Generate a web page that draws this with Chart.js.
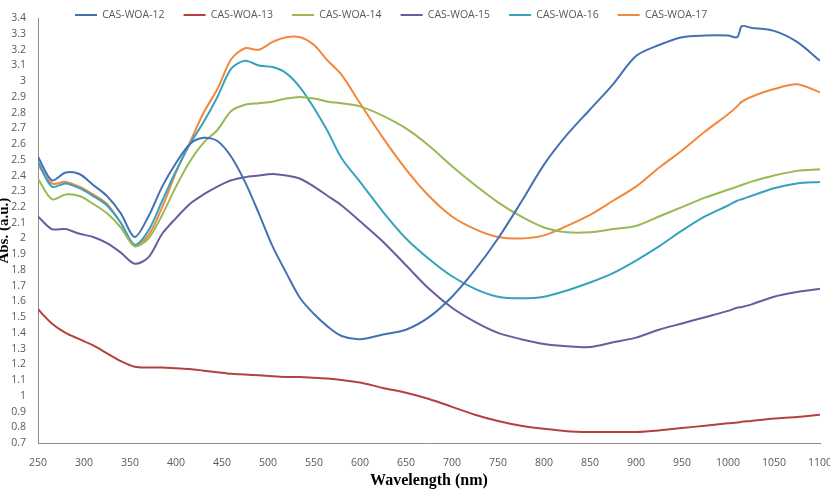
<!DOCTYPE html>
<html>
<head>
<meta charset="utf-8">
<script src="https://cdn.jsdelivr.net/npm/chart.js@4.4.1/dist/chart.umd.min.js"></script>
<style>
  body { margin: 0; background: #fff; }
</style>
</head>
<body>
<canvas id="spectra-chart" width="830" height="490"></canvas>
<script>
const wavelengths = [250, 265, 280, 295, 310, 325, 340, 355, 370, 385, 400, 415, 430, 445, 460, 475, 490, 505, 520, 535,
  550, 565, 580, 600, 625, 650, 675, 700, 725, 750, 775, 800, 825, 850, 875, 900, 925, 950, 975, 1000,
  1010, 1015, 1025, 1050, 1075, 1100];

const woa12 = [2.52, 2.37, 2.42, 2.41, 2.34, 2.27, 2.16, 2.01, 2.14, 2.33, 2.48, 2.60, 2.64, 2.62, 2.52, 2.36, 2.16, 1.95, 1.78, 1.62,
  1.52, 1.44, 1.38, 1.36, 1.39, 1.42, 1.50, 1.63, 1.80, 2.00, 2.23, 2.47, 2.66, 2.82, 2.98, 3.16, 3.23, 3.28, 3.29, 3.29,
  3.28, 3.35, 3.34, 3.32, 3.25, 3.13];
const woa13 = [1.55, 1.46, 1.40, 1.36, 1.32, 1.27, 1.22, 1.185, 1.18, 1.18, 1.175, 1.17, 1.16, 1.15, 1.14, 1.135, 1.13, 1.125, 1.12, 1.12,
  1.115, 1.11, 1.10, 1.085, 1.05, 1.02, 0.98, 0.93, 0.88, 0.84, 0.81, 0.79, 0.775, 0.77, 0.77, 0.77, 0.78, 0.795, 0.81, 0.825,
  0.83, 0.835, 0.84, 0.855, 0.865, 0.88];
const woa14 = [2.38, 2.25, 2.28, 2.27, 2.22, 2.16, 2.07, 1.95, 2.00, 2.15, 2.33, 2.49, 2.61, 2.69, 2.81, 2.85, 2.86, 2.87, 2.89, 2.90,
  2.89, 2.87, 2.86, 2.84, 2.78, 2.70, 2.59, 2.46, 2.34, 2.23, 2.14, 2.07, 2.04, 2.04, 2.06, 2.08, 2.14, 2.20, 2.26, 2.31,
  2.33, 2.34, 2.36, 2.40, 2.43, 2.44];
const woa15 = [2.14, 2.06, 2.06, 2.03, 2.01, 1.97, 1.91, 1.84, 1.88, 2.03, 2.13, 2.22, 2.28, 2.33, 2.37, 2.39, 2.40, 2.41, 2.40, 2.38,
  2.33, 2.27, 2.21, 2.11, 1.98, 1.83, 1.68, 1.56, 1.47, 1.40, 1.36, 1.33, 1.315, 1.31, 1.34, 1.37, 1.42, 1.46, 1.50, 1.54,
  1.56, 1.565, 1.58, 1.63, 1.66, 1.68];
const woa16 = [2.49, 2.33, 2.35, 2.32, 2.27, 2.21, 2.10, 1.96, 2.05, 2.24, 2.43, 2.60, 2.74, 2.90, 3.08, 3.13, 3.10, 3.09, 3.05, 2.96,
  2.83, 2.68, 2.51, 2.36, 2.17, 2.00, 1.87, 1.76, 1.68, 1.63, 1.62, 1.63, 1.67, 1.72, 1.78, 1.86, 1.95, 2.05, 2.14, 2.21,
  2.24, 2.25, 2.27, 2.32, 2.35, 2.36];
const woa17 = [2.47, 2.35, 2.36, 2.33, 2.28, 2.22, 2.10, 1.96, 2.02, 2.20, 2.42, 2.61, 2.80, 2.95, 3.14, 3.21, 3.20, 3.25, 3.28, 3.28,
  3.23, 3.13, 3.04, 2.86, 2.64, 2.44, 2.27, 2.14, 2.06, 2.01, 2.00, 2.02, 2.08, 2.15, 2.24, 2.33, 2.45, 2.56, 2.68, 2.79,
  2.84, 2.87, 2.90, 2.95, 2.98, 2.93];

const seriesNames = ["CAS-WOA-12", "CAS-WOA-13", "CAS-WOA-14", "CAS-WOA-15", "CAS-WOA-16", "CAS-WOA-17"];
const seriesValues = [woa12, woa13, woa14, woa15, woa16, woa17];
const seriesColors = ["#4670b4", "#b5413e", "#98b954", "#6c5b9e", "#37a2be", "#f0883d"];

const datasets = seriesNames.map((name, i) => ({
  label: name,
  data: wavelengths.map((w, j) => ({ x: w, y: seriesValues[i][j] })),
  borderColor: seriesColors[i],
  backgroundColor: seriesColors[i],
  borderWidth: 2,
  pointRadius: 0,
  tension: 0.3,
}));

// legend takes no room (maxHeight) and is then moved into the top strip of the plot
const legendShift = {
  id: "legendShift",
  afterLayout(chart) {
    const lg = chart.legend;
    const w = lg.right - lg.left;
    lg.left = 56;
    lg.right = lg.left + w;
    lg.top = -9.25;
    lg.bottom = 30;
    lg.height = lg.bottom - lg.top;
  }
};

const tickFont = { family: "'Open Sans', sans-serif", size: 10.5 };

const ctx = document.getElementById("spectra-chart");

new Chart(ctx, {
  type: "line",
  data: { datasets },
  plugins: [legendShift],
  options: {
    responsive: false,
    animation: false,
    layout: { padding: { left: 0, right: 0, top: 15, bottom: 0 } },
    plugins: {
      legend: {
        position: "top",
        align: "start",
        maxHeight: 0.01,
        labels: {
          usePointStyle: true,
          pointStyle: "line",
          pointStyleWidth: 22,
          boxHeight: 10,
          padding: 19,
          color: "#595959",
          font: { family: "'Open Sans', sans-serif", size: 10.5 },
        },
      },
      tooltip: { enabled: false },
    },
    scales: {
      x: {
        type: "linear",
        min: 250,
        max: 1100,
        grid: { display: false, drawTicks: false },
        border: { display: true, color: "#8c8c8c", width: 1 },
        ticks: {
          stepSize: 50,
          padding: 14,
          color: "#595959",
          font: tickFont,
          maxRotation: 0,
          autoSkip: false,
          callback: v => String(v),
        },
        title: {
          display: true,
          text: "Wavelength (nm)",
          color: "#000",
          font: { family: "'Liberation Serif', serif", size: 16, weight: "bold" },
          padding: { top: 0, bottom: 0 },
        },
        afterFit: scale => {
          scale.height = 47;
          scale.paddingRight = 10;
        },
      },
      y: {
        min: 0.7,
        max: 3.4,
        grid: { display: false, drawTicks: false },
        border: { display: true, color: "#8c8c8c", width: 1 },
        ticks: {
          stepSize: 0.1,
          padding: 12,
          color: "#595959",
          font: tickFont,
          autoSkip: false,
          callback: v => String(Math.round(v * 10) / 10),
        },
        title: {
          display: true,
          text: "Abs. (a.u.)",
          color: "#000",
          font: { family: "'Liberation Serif', serif", size: 15, weight: "bold" },
          padding: { top: -5, bottom: 0 },
        },
        afterFit: scale => { scale.width = 38; },
      },
    },
  },
});
</script>
</body>
</html>
